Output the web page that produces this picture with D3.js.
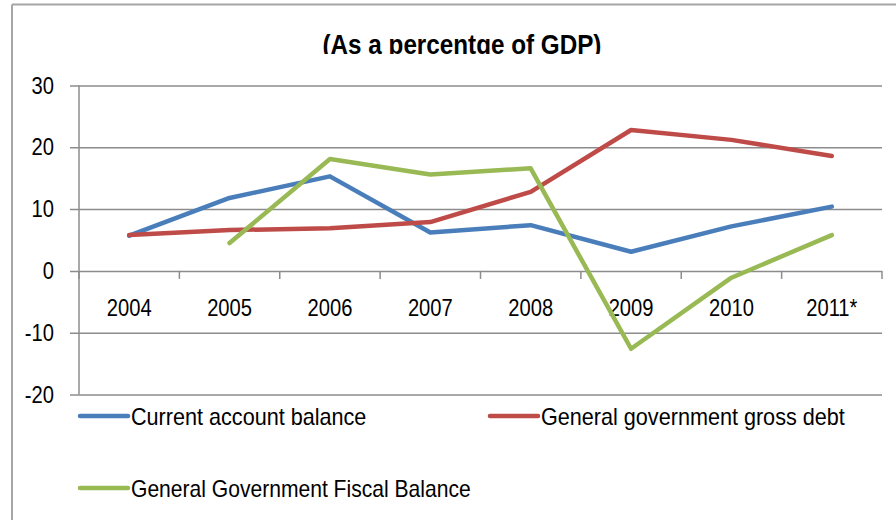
<!DOCTYPE html>
<html>
<head>
<meta charset="utf-8">
<script src="https://cdn.jsdelivr.net/npm/d3@7"></script>
<style>
  html, body { margin: 0; padding: 0; background: #fff; }
  svg { display: block; }
  text { font-family: "Liberation Sans", Arial, sans-serif; fill: #000; }
</style>
</head>
<body>
<svg id="chart" width="896" height="520"></svg>
<script>
// Years on the category axis
const years = ["2004", "2005", "2006", "2007", "2008", "2009", "2010", "2011*"];

// Series values, % of GDP
const currentAccount = [5.7, 11.8, 15.3, 6.2, 7.4, 3.1, 7.2, 10.4];
const grossDebt      = [5.8, 6.6, 6.9, 7.9, 12.8, 22.8, 21.2, 18.6];
const fiscalBalance  = [null, 4.5, 18.1, 15.6, 16.6, -12.6, -1.1, 5.8];

const seriesNames = ["Current account balance", "General government gross debt", "General Government Fiscal Balance"];
const yTicks = [30, 20, 10, 0, -10, -20];

const colors = ["#4a7ebb", "#be4b48", "#98b954"];
const series = [currentAccount, grossDebt, fiscalBalance];

const svg = d3.select("#chart");

// Squeeze a text selection horizontally to a condensed look
function condense(sel, ratio) {
  sel.each(function () {
    const w = this.getComputedTextLength();
    d3.select(this).attr("textLength", (w * ratio).toFixed(2)).attr("lengthAdjust", "spacingAndGlyphs");
  });
}

// Outer frame (top and left edges)
svg.append("line").attr("x1", 12).attr("x2", 896).attr("y1", 4.5).attr("y2", 4.5)
  .attr("stroke", "#a6a6a6").attr("stroke-width", 2);
svg.append("line").attr("x1", 12).attr("x2", 12).attr("y1", 4.5).attr("y2", 520)
  .attr("stroke", "#a6a6a6").attr("stroke-width", 2);

// Title, clipped just below its baseline
svg.append("clipPath").attr("id", "titleClip")
  .append("rect").attr("x", 0).attr("y", 0).attr("width", 896).attr("height", 54);
svg.append("text")
  .attr("clip-path", "url(#titleClip)")
  .attr("x", 462).attr("y", 54)
  .attr("text-anchor", "middle")
  .attr("font-weight", "bold")
  .attr("font-size", 28)
  .text("(As a percentge of GDP)")
  .call(condense, 0.866);

const plotL = 79, plotR = 882, plotT = 85.5, plotB = 394.5;

const x = d3.scaleBand().domain(years).range([plotL, plotR]);
const y = d3.scaleLinear().domain([-20, 30]).range([plotB, plotT]);

// Horizontal gridlines with y-axis labels
const yAxis = d3.axisLeft(y).tickValues(yTicks).tickSize(0).tickPadding(16).tickFormat(d => String(d));
const gy = svg.append("g").attr("transform", `translate(${plotL - 9},0)`).call(yAxis);
gy.select(".domain").remove();
gy.selectAll(".tick line")
  .attr("x1", 0).attr("x2", plotR - plotL + 9)
  .attr("stroke", "#8c8c8c").attr("stroke-width", 1.5);
gy.selectAll(".tick text").attr("font-size", 24).attr("font-family", "Liberation Sans, Arial, sans-serif").call(condense, 0.84);

// Vertical value axis line
svg.append("line").attr("x1", plotL).attr("x2", plotL).attr("y1", plotT).attr("y2", plotB)
  .attr("stroke", "#8c8c8c").attr("stroke-width", 1.5);

// Category axis along zero: tick marks at band edges, labels centred in bands
const gx = svg.append("g").attr("transform", `translate(0,${y(0)})`);
const edges = years.map(d => x(d)).concat([plotR]);
gx.selectAll("line.tk").data(edges).join("line")
  .attr("class", "tk")
  .attr("x1", d => d).attr("x2", d => d).attr("y1", 0).attr("y2", 8)
  .attr("stroke", "#8c8c8c").attr("stroke-width", 1.5);
gx.selectAll("text").data(years).join("text")
  .attr("x", d => x(d) + x.bandwidth() / 2)
  .attr("y", 45)
  .attr("text-anchor", "middle")
  .attr("font-size", 24)
  .text(d => d)
  .call(condense, 0.84);

// Series lines
const line = d3.line()
  .defined(d => d.v !== null)
  .x(d => x(d.year) + x.bandwidth() / 2)
  .y(d => y(d.v));

series.forEach((vals, i) => {
  svg.append("path")
    .datum(vals.map((v, j) => ({ year: years[j], v })))
    .attr("fill", "none")
    .attr("stroke", colors[i])
    .attr("stroke-width", 4.5)
    .attr("stroke-linejoin", "round")
    .attr("stroke-linecap", "round")
    .attr("d", line);
});

// Legend
const legendPos = [[80, 416], [490, 416], [80, 488]];
const legendSqueeze = [0.9, 0.9, 0.878];
seriesNames.forEach((name, i) => {
  const [lx, ly] = legendPos[i];
  const g = svg.append("g").attr("transform", `translate(${lx},${ly})`);
  g.append("line").attr("x1", 0).attr("x2", 48).attr("y1", 0).attr("y2", 0)
    .attr("stroke", colors[i]).attr("stroke-width", 4.5).attr("stroke-linecap", "round");
  g.append("text").attr("x", 51).attr("y", 0).attr("dy", "0.36em")
    .attr("font-size", 24).text(name)
    .call(condense, legendSqueeze[i]);
});
</script>
</body>
</html>
